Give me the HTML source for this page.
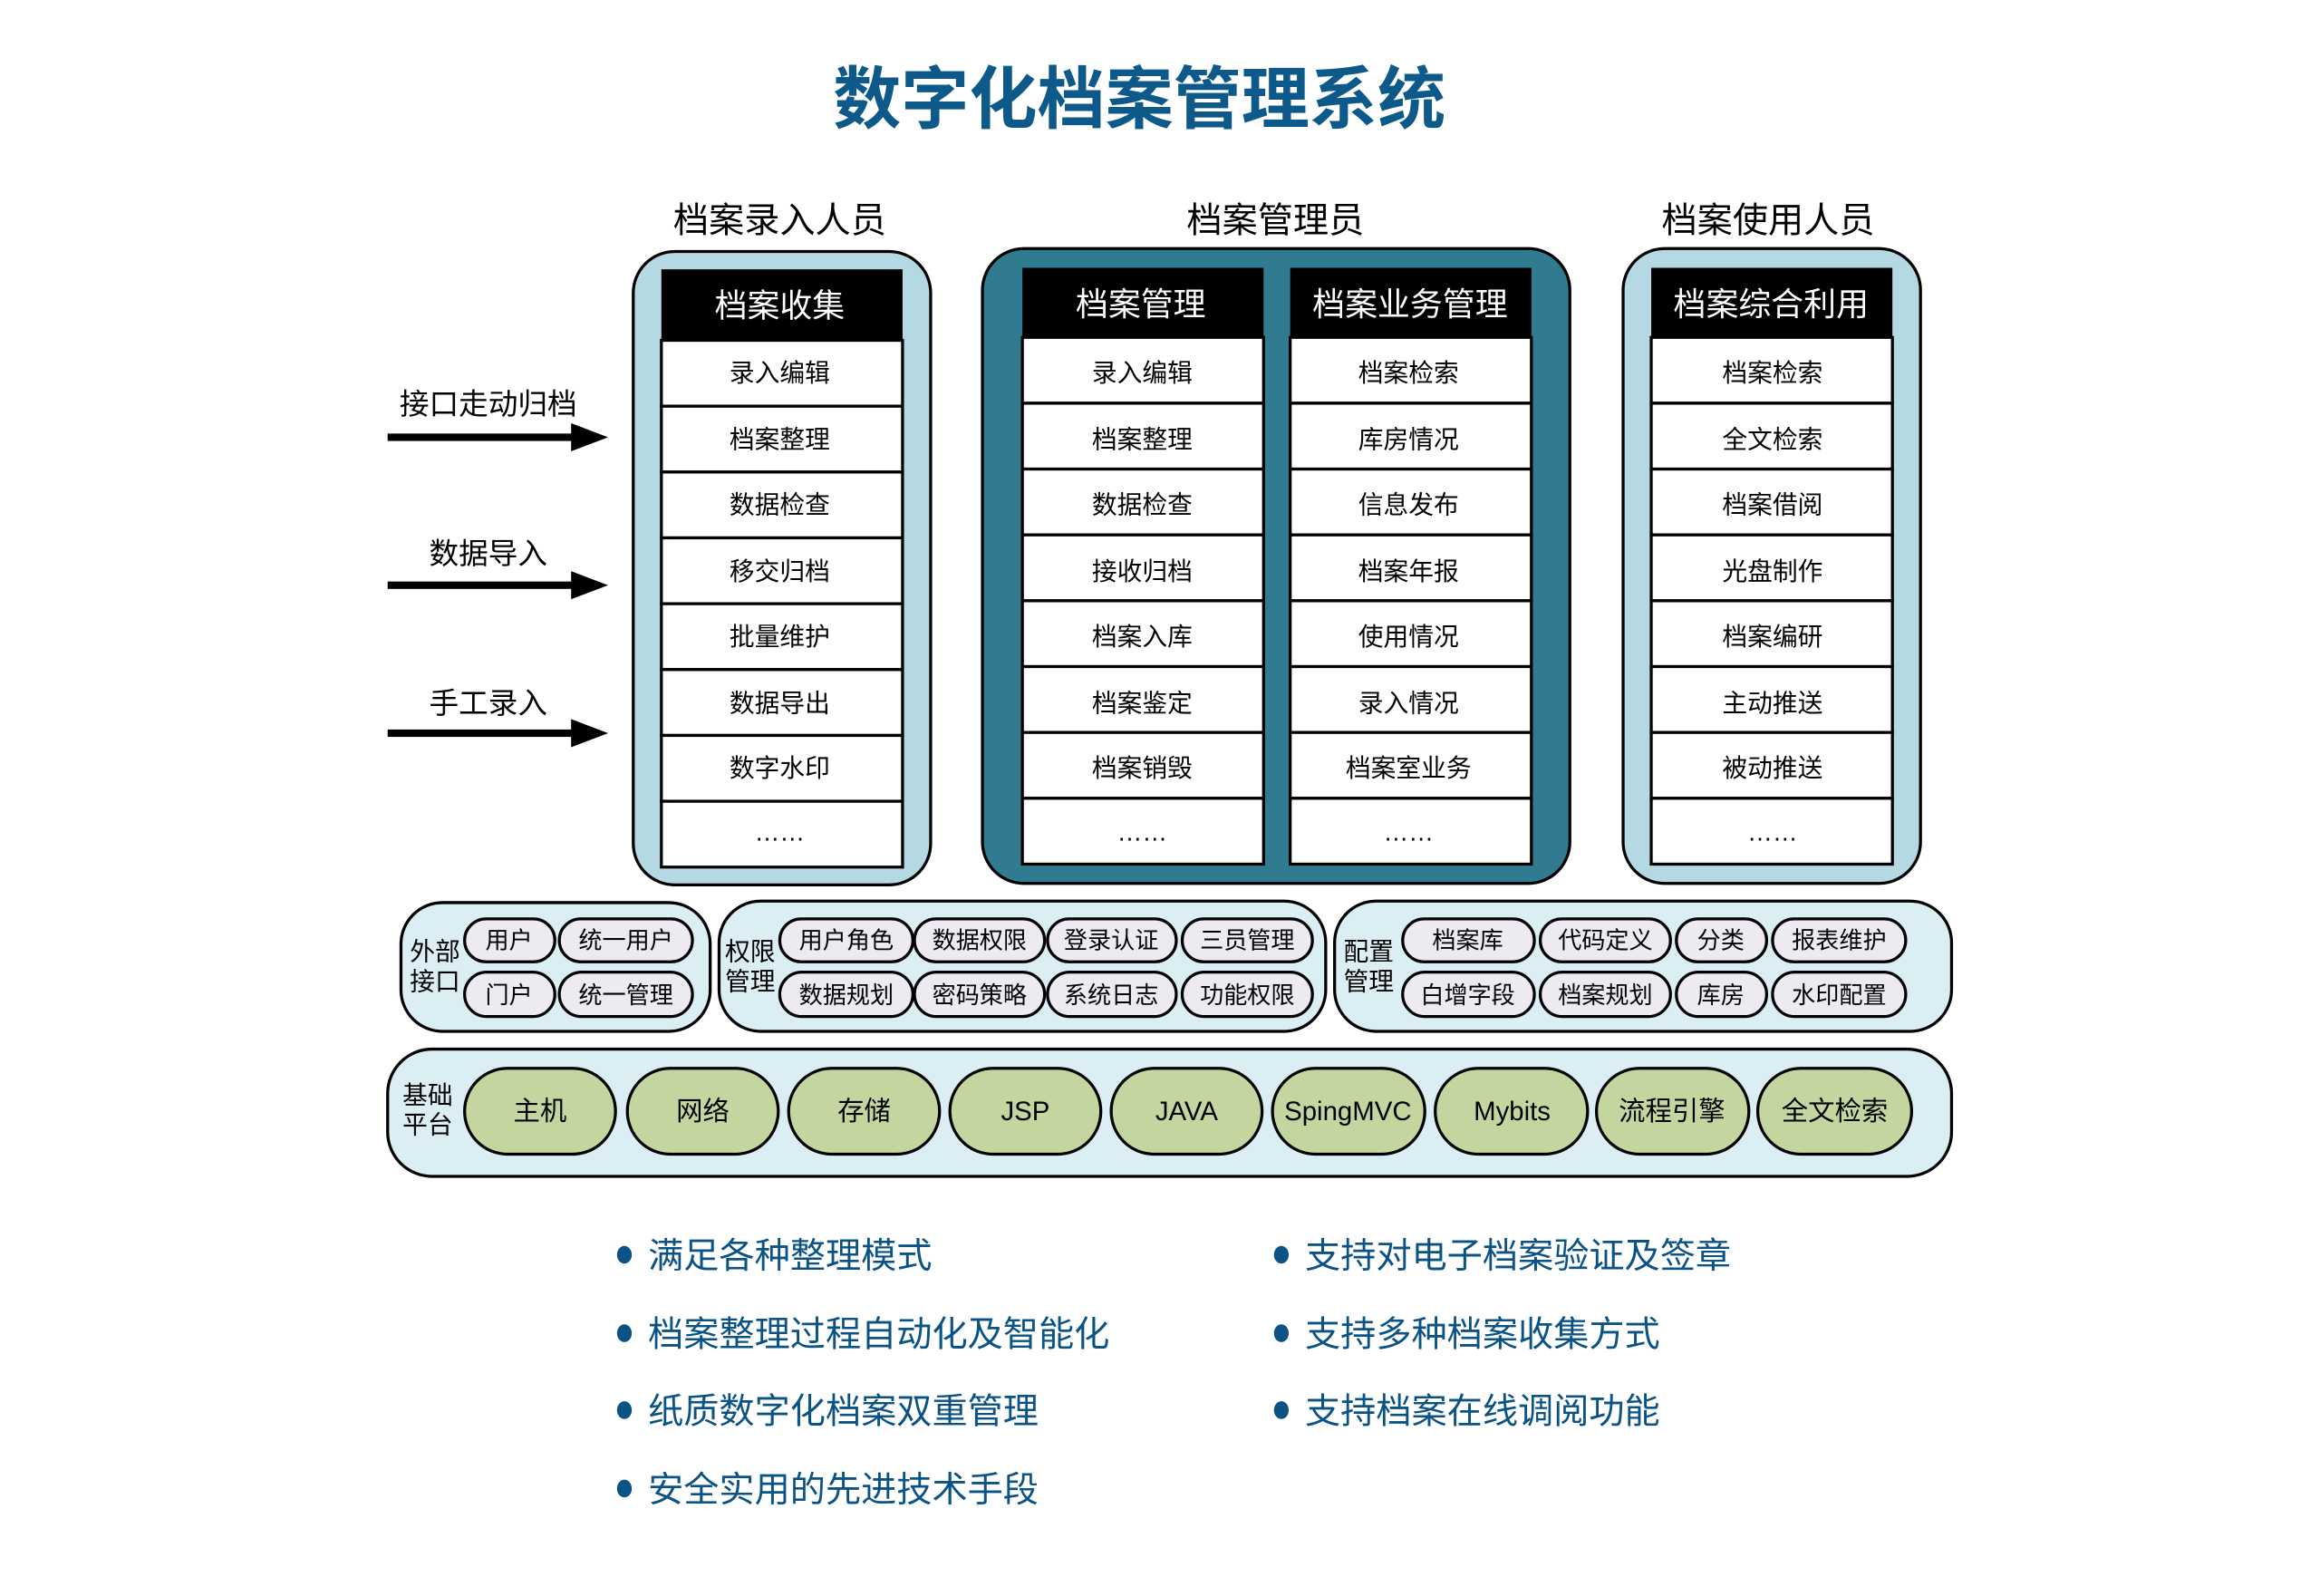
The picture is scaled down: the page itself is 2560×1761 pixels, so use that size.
<!DOCTYPE html>
<html><head><meta charset="utf-8"><style>
html,body{margin:0;padding:0;background:#fff;}
svg{display:block;}
text{font-family:"Liberation Sans","Noto Sans CJK SC",sans-serif;}
</style></head><body>
<svg width="2560" height="1761" viewBox="0 0 1568 1078.6" preserveAspectRatio="none" xmlns="http://www.w3.org/2000/svg">
<rect width="1568" height="1080" fill="#fff"/>
<text x="770" y="83" font-size="46" font-weight="bold" fill="#0d5a8a" text-anchor="middle">数字化档案管理系统</text>

<g font-size="24" fill="#000" text-anchor="middle">
<text x="527" y="157">档案录入人员</text>
<text x="862" y="157">档案管理员</text>
<text x="1195" y="157">档案使用人员</text>
</g>

<g fill="#000">
<rect x="262" y="293" width="136" height="5"/><polygon points="386,286 411,295.5 386,305"/>
<rect x="262" y="393" width="136" height="5"/><polygon points="386,386 411,395.5 386,405"/>
<rect x="262" y="493" width="136" height="5"/><polygon points="386,486 411,495.5 386,505"/>
</g>
<g font-size="20" text-anchor="middle">
<text x="330" y="280">接口走动归档</text>
<text x="330" y="381">数据导入</text>
<text x="330" y="482">手工录入</text>
</g>

<rect x="428" y="170" width="201" height="428" rx="28" fill="#b5d9e3" stroke="#000" stroke-width="2"/>
<rect x="664" y="168" width="397" height="429" rx="28" fill="#317b91" stroke="#000" stroke-width="2"/>
<rect x="1097" y="168" width="201" height="429" rx="28" fill="#b5d9e3" stroke="#000" stroke-width="2"/>

<g font-size="17" text-anchor="middle">
<rect x="447" y="182" width="163" height="48" fill="#000"/>
<text x="527" y="214" fill="#fff" font-size="22">档案收集</text>
<g fill="#fff" stroke="#000" stroke-width="2">
<rect x="447" y="230" width="163" height="44.5"/><rect x="447" y="274.5" width="163" height="44.5"/>
<rect x="447" y="319" width="163" height="44.5"/><rect x="447" y="363.5" width="163" height="44.5"/>
<rect x="447" y="408" width="163" height="44.5"/><rect x="447" y="452.5" width="163" height="44.5"/>
<rect x="447" y="497" width="163" height="44.5"/><rect x="447" y="541.5" width="163" height="44.5"/>
</g>
<g fill="#000">
<text x="527" y="258">录入编辑</text><text x="527" y="303">档案整理</text><text x="527" y="347">数据检查</text>
<text x="527" y="392">移交归档</text><text x="527" y="436">批量维护</text><text x="527" y="481">数据导出</text>
<text x="527" y="525">数字水印</text><text x="527" y="568">……</text>
</g>
<rect x="691" y="181" width="163" height="47" fill="#000"/>
<text x="771" y="213" fill="#fff" font-size="22">档案管理</text>
<rect x="872" y="181" width="163" height="47" fill="#000"/>
<text x="953" y="213" fill="#fff" font-size="22">档案业务管理</text>
<g fill="#fff" stroke="#000" stroke-width="2">
<rect x="691" y="228" width="163" height="44.5"/><rect x="691" y="272.5" width="163" height="44.5"/>
<rect x="691" y="317" width="163" height="44.5"/><rect x="691" y="361.5" width="163" height="44.5"/>
<rect x="691" y="406" width="163" height="44.5"/><rect x="691" y="450.5" width="163" height="44.5"/>
<rect x="691" y="495" width="163" height="44.5"/><rect x="691" y="539.5" width="163" height="44.5"/>
<rect x="872" y="228" width="163" height="44.5"/><rect x="872" y="272.5" width="163" height="44.5"/>
<rect x="872" y="317" width="163" height="44.5"/><rect x="872" y="361.5" width="163" height="44.5"/>
<rect x="872" y="406" width="163" height="44.5"/><rect x="872" y="450.5" width="163" height="44.5"/>
<rect x="872" y="495" width="163" height="44.5"/><rect x="872" y="539.5" width="163" height="44.5"/>
</g>
<g fill="#000">
<text x="772" y="258">录入编辑</text><text x="772" y="303">档案整理</text><text x="772" y="347">数据检查</text>
<text x="772" y="392">接收归档</text><text x="772" y="436">档案入库</text><text x="772" y="481">档案鉴定</text>
<text x="772" y="525">档案销毁</text><text x="772" y="568">……</text>
<text x="952" y="258">档案检索</text><text x="952" y="303">库房情况</text><text x="952" y="347">信息发布</text>
<text x="952" y="392">档案年报</text><text x="952" y="436">使用情况</text><text x="952" y="481">录入情况</text>
<text x="952" y="525">档案室业务</text><text x="952" y="568">……</text>
</g>
<rect x="1116" y="181" width="163" height="47" fill="#000"/>
<text x="1197" y="213" fill="#fff" font-size="22">档案综合利用</text>
<g fill="#fff" stroke="#000" stroke-width="2">
<rect x="1116" y="228" width="163" height="44.5"/><rect x="1116" y="272.5" width="163" height="44.5"/>
<rect x="1116" y="317" width="163" height="44.5"/><rect x="1116" y="361.5" width="163" height="44.5"/>
<rect x="1116" y="406" width="163" height="44.5"/><rect x="1116" y="450.5" width="163" height="44.5"/>
<rect x="1116" y="495" width="163" height="44.5"/><rect x="1116" y="539.5" width="163" height="44.5"/>
</g>
<g fill="#000">
<text x="1198" y="258">档案检索</text><text x="1198" y="303">全文检索</text><text x="1198" y="347">档案借阅</text>
<text x="1198" y="392">光盘制作</text><text x="1198" y="436">档案编研</text><text x="1198" y="481">主动推送</text>
<text x="1198" y="525">被动推送</text><text x="1198" y="568">……</text>
</g>
</g>

<g stroke="#000" stroke-width="2" fill="#dbeef3">
<rect x="271" y="610" width="209" height="87" rx="28"/>
<rect x="486" y="609" width="410" height="88" rx="28"/>
<rect x="902" y="609" width="417" height="88" rx="28"/>
<rect x="262" y="709" width="1057" height="86" rx="30"/>
</g>
<g font-size="17" fill="#000">
<text x="277" y="649">外部</text><text x="277" y="669">接口</text>
<text x="490" y="649">权限</text><text x="490" y="669">管理</text>
<text x="908" y="649">配置</text><text x="908" y="669">管理</text>
<text x="272" y="746">基础</text><text x="272" y="766">平台</text>
</g>
<g stroke="#000" stroke-width="2" fill="#eeeaf1">
<rect x="314" y="621" width="61" height="29" rx="14.5"/><rect x="378" y="621" width="90" height="29" rx="14.5"/>
<rect x="314" y="657" width="61" height="30" rx="15"/><rect x="378" y="657" width="90" height="30" rx="15"/>
<rect x="527" y="621" width="90" height="29" rx="14.5"/><rect x="618" y="621" width="88" height="29" rx="14.5"/>
<rect x="708" y="621" width="87" height="29" rx="14.5"/><rect x="799" y="621" width="88" height="29" rx="14.5"/>
<rect x="527" y="657" width="90" height="30" rx="15"/><rect x="618" y="657" width="88" height="30" rx="15"/>
<rect x="708" y="657" width="87" height="30" rx="15"/><rect x="799" y="657" width="88" height="30" rx="15"/>
<rect x="948" y="621" width="89" height="29" rx="14.5"/><rect x="1041" y="621" width="88" height="29" rx="14.5"/>
<rect x="1133" y="621" width="61" height="29" rx="14.5"/><rect x="1198" y="621" width="90" height="29" rx="14.5"/>
<rect x="948" y="657" width="89" height="30" rx="15"/><rect x="1041" y="657" width="88" height="30" rx="15"/>
<rect x="1133" y="657" width="61" height="30" rx="15"/><rect x="1198" y="657" width="90" height="30" rx="15"/>
</g>
<g font-size="16" text-anchor="middle" fill="#000">
<text x="344" y="641">用户</text><text x="423" y="641">统一用户</text>
<text x="344" y="678">门户</text><text x="423" y="678">统一管理</text>
<text x="572" y="641">用户角色</text><text x="662" y="641">数据权限</text><text x="751" y="641">登录认证</text><text x="843" y="641">三员管理</text>
<text x="572" y="678">数据规划</text><text x="662" y="678">密码策略</text><text x="751" y="678">系统日志</text><text x="843" y="678">功能权限</text>
<text x="992" y="641">档案库</text><text x="1085" y="641">代码定义</text><text x="1163" y="641">分类</text><text x="1243" y="641">报表维护</text>
<text x="992" y="678">白增字段</text><text x="1085" y="678">档案规划</text><text x="1163" y="678">库房</text><text x="1243" y="678">水印配置</text>
</g>

<g stroke="#000" stroke-width="2" fill="#c4d6a0">
<rect x="314" y="722" width="102" height="58" rx="29"/><rect x="424" y="722" width="102" height="58" rx="29"/>
<rect x="533" y="722" width="102" height="58" rx="29"/><rect x="642" y="722" width="102" height="58" rx="29"/>
<rect x="751" y="722" width="102" height="58" rx="29"/><rect x="860" y="722" width="103" height="58" rx="29"/>
<rect x="970" y="722" width="103" height="58" rx="29"/><rect x="1079" y="722" width="103" height="58" rx="29"/>
<rect x="1188" y="722" width="104" height="58" rx="29"/>
</g>
<g font-size="18" text-anchor="middle" fill="#000">
<text x="365" y="757">主机</text><text x="475" y="757">网络</text><text x="584" y="757">存储</text>
<text x="693" y="757">JSP</text><text x="802" y="757">JAVA</text><text x="911" y="757">SpingMVC</text>
<text x="1022" y="757">Mybits</text><text x="1130" y="757">流程引擎</text><text x="1240" y="757">全文检索</text>
</g>

<g fill="#0b5384">
<ellipse cx="422" cy="848" rx="5" ry="6"/><ellipse cx="422" cy="901" rx="5" ry="6"/>
<ellipse cx="422" cy="953" rx="5" ry="6"/><ellipse cx="422" cy="1006" rx="5" ry="6"/>
<ellipse cx="866" cy="848" rx="5" ry="6"/><ellipse cx="866" cy="901" rx="5" ry="6"/>
<ellipse cx="866" cy="953" rx="5" ry="6"/>
</g>
<g font-size="24" fill="#0b5384">
<text x="438" y="857">满足各种整理模式</text>
<text x="438" y="910">档案整理过程自动化及智能化</text>
<text x="438" y="962">纸质数字化档案双重管理</text>
<text x="438" y="1015">安全实用的先进技术手段</text>
<text x="882" y="857">支持对电子档案验证及签章</text>
<text x="882" y="910">支持多种档案收集方式</text>
<text x="882" y="962">支持档案在线调阅功能</text>
</g>
</svg>
</body></html>
